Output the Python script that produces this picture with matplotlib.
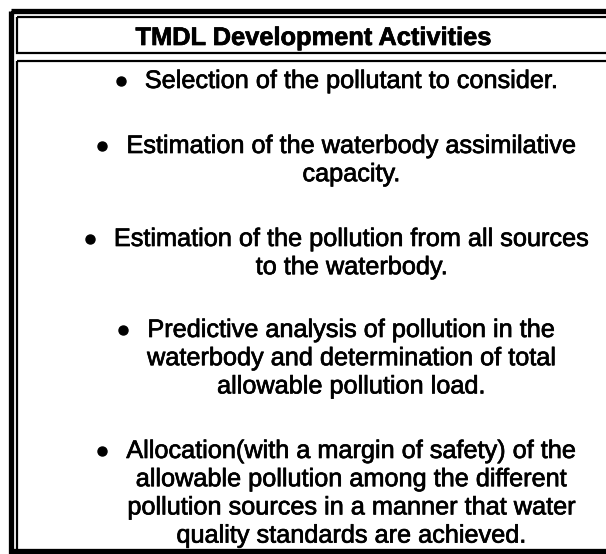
import matplotlib.pyplot as plt
import matplotlib.patheffects as pe
from matplotlib.patches import Rectangle

# Box content
title = "TMDL Development Activities"
items = [
    ["Selection of the pollutant to consider."],
    ["Estimation of the waterbody assimilative", "capacity."],
    ["Estimation of the pollution from all sources", "to the waterbody."],
    ["Predictive analysis of pollution in the",
     "waterbody and determination of total",
     "allowable pollution load."],
    ["Allocation(with a margin of safety) of the",
     "allowable pollution among the different",
     "pollution sources in a manner that water",
     "quality standards are achieved."],
]

# layout (pixel coords, y down)
W, H = 606, 554
text_cx = 351.5
item_base = [88, 153, 246, 337, 458]
line_gap = 28.2

plt.rcParams['font.family'] = ['Liberation Sans', 'DejaVu Sans']
ink = [pe.withStroke(linewidth=0.5, foreground='black')]

fig = plt.figure(figsize=(W / 100, H / 100), dpi=100)
ax = fig.add_axes([0, 0, 1, 1])
ax.set_xlim(0, W)
ax.set_ylim(H, 0)
ax.axis('off')

# outer frame (runs off the right edge like the scan)
ax.add_patch(Rectangle((10.5, 10.5), 700, 540.5, fill=False, lw=3.8, ec='black'))
# header box and content box
ax.add_patch(Rectangle((16.5, 16.5), 700, 36.5, fill=False, lw=1.6, ec='black'))
ax.add_patch(Rectangle((16.5, 60.5), 700, 490.5, fill=False, lw=1.6, ec='black'))

ax.text(313, 45, title, ha='center', va='baseline', fontsize=18.3,
        fontweight='bold', path_effects=ink)

fig.canvas.draw()
renderer = fig.canvas.get_renderer()
inv = ax.transData.inverted()

for lines, base in zip(items, item_base):
    for i, line in enumerate(lines):
        t = ax.text(text_cx, base + i * line_gap, line, ha='center',
                    va='baseline', fontsize=18.2, path_effects=ink)
        if i == 0:
            bb = t.get_window_extent(renderer=renderer)
            left = inv.transform((bb.x0, bb.y0))[0]
            ax.plot(left - 24, base - 7.5, 'o', color='black', ms=6.5)

fig.savefig('out.png', dpi=100)
